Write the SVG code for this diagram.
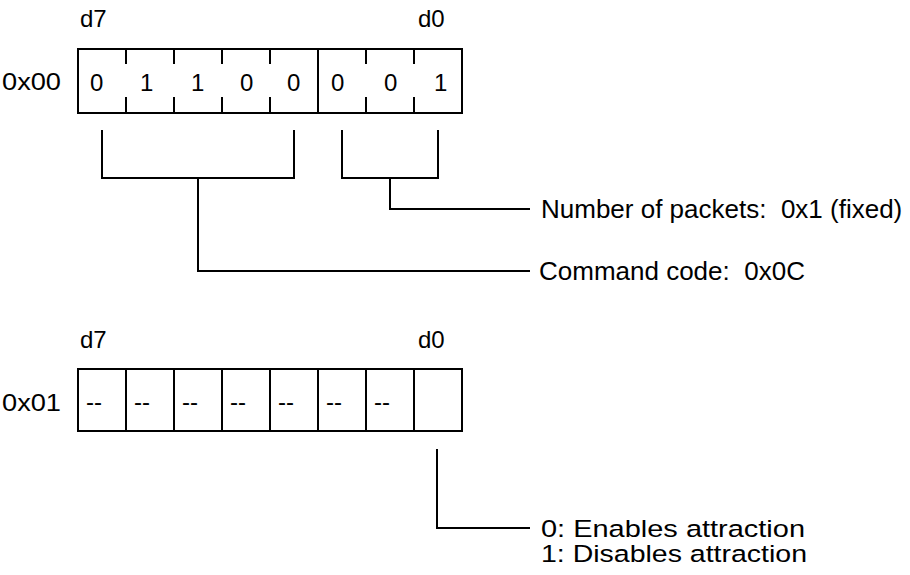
<svg xmlns="http://www.w3.org/2000/svg" width="910" height="575" viewBox="0 0 910 575">
<style>
text{font-family:"Liberation Sans",Arial,sans-serif;font-size:24px;fill:#000}
.lbl{font-size:26px}
.att{font-size:24.5px}
.ln{fill:none;stroke:#000;stroke-width:2}
</style>
<rect width="910" height="575" fill="#fff"/>
<g id="reg00">
<text x="80" y="27">d7</text>
<text x="418" y="27">d0</text>
<text x="2" y="90" textLength="59" lengthAdjust="spacingAndGlyphs">0x00</text>
<rect class="ln" x="78" y="49" width="384" height="64"/>
<path class="ln" d="M126 49V64M126 97V113M174 49V64M174 97V113M222 49V64M222 97V113M270 49V64M270 97V113M318 49V113M366 49V64M366 97V113M414 49V64M414 97V113"/>
<text x="90" y="91">0</text>
<text x="140" y="91">1</text>
<text x="191" y="91">1</text>
<text x="240" y="91">0</text>
<text x="287" y="91">0</text>
<text x="331" y="91">0</text>
<text x="384" y="91">0</text>
<text x="434" y="91">1</text>
</g>
<g id="reg01">
<text x="80" y="348">d7</text>
<text x="418" y="348">d0</text>
<text x="2" y="411" textLength="59" lengthAdjust="spacingAndGlyphs">0x01</text>
<rect class="ln" x="78" y="369" width="384" height="62"/>
<path class="ln" d="M126 369V431M174 369V431M222 369V431M270 369V431M318 369V431M366 369V431M414 369V431"/>
<text x="86" y="410">--</text>
<text x="134" y="410">--</text>
<text x="182" y="410">--</text>
<text x="230" y="410">--</text>
<text x="278" y="410">--</text>
<text x="326" y="410">--</text>
<text x="374" y="410">--</text>
</g>
<g id="label-packets"><text class="lbl" x="541" y="218" xml:space="preserve">Number of packets:  0x1 (fixed)</text></g>
<g id="label-command"><text class="lbl" x="539" y="280" xml:space="preserve">Command code:  0x0C</text></g>
<g id="label-attraction">
<text class="att" x="541" y="537" textLength="264" lengthAdjust="spacingAndGlyphs">0: Enables attraction</text>
<text class="att" x="541" y="562" textLength="266" lengthAdjust="spacingAndGlyphs">1: Disables attraction</text>
</g>
<g id="connectors">
<path class="ln" d="M102 130V178H294V130M198 178V271H530"/>
<path class="ln" d="M342 130V178H438V130M390 178V209H530"/>
<path class="ln" d="M437 449V528H530"/>
</g>
</svg>
